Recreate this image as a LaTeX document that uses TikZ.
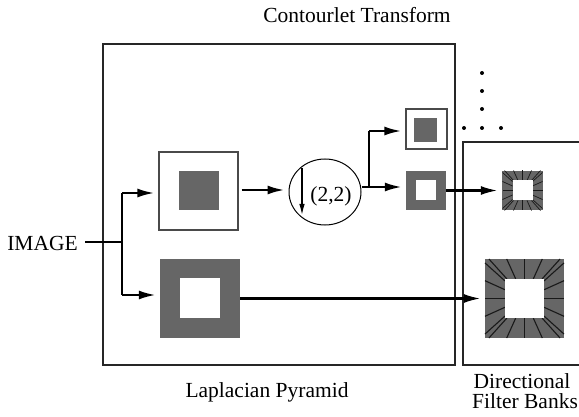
\documentclass[tikz,border=0pt]{standalone}
\usepackage{fontspec}
\setmainfont{Liberation Serif}
\usetikzlibrary{arrows.meta,shapes.geometric}
\definecolor{sqgray}{HTML}{666666}
\definecolor{edgegray}{HTML}{4A4A4A}
\tikzset{
  lbl/.style={font=\fontsize{21.5}{24}\selectfont, inner sep=0pt, anchor=base},
  frame/.style={draw=black!85, line width=1.3pt},
  arr/.style={line width=2.4pt, -{Latex[length=17pt,width=9pt]}, shorten >=4pt},
  wire/.style={line width=2.4pt},
  graysq/.style={fill=sqgray, draw=none, inner sep=0pt},
  hole/.style={fill=white, draw=none, inner sep=0pt},
  outsq/.style={draw=edgegray, line width=1.2pt, fill=white, inner sep=0pt},
  ray/.style={line width=1.1pt, black!90},
  dot/.style={circle, fill=black, inner sep=0pt, minimum size=4pt}
}
\newcommand\myrays[5]{%
  \foreach \t in {-0.9,-0.45,0,0.45,0.9}{
    \draw[ray, line width=#5] ({#1+\t*#4},{#2-#4}) -- ({#1+\t*#3},{#2-#3});
    \draw[ray, line width=#5] ({#1+\t*#4},{#2+#4}) -- ({#1+\t*#3},{#2+#3});
    \draw[ray, line width=#5] ({#1-#4},{#2+\t*#4}) -- ({#1-#3},{#2+\t*#3});
    \draw[ray, line width=#5] ({#1+#4},{#2+\t*#4}) -- ({#1+#3},{#2+\t*#3});
  }}
\begin{document}
\begin{tikzpicture}[x=1pt,y=-1pt]
\useasboundingbox (0,0) rectangle (579,417);
% frames
\draw[frame] (103,44) rectangle (455,365);
\draw[frame] (579,142) -- (463,142) -- (463,365) -- (579,365);
% titles
\node[lbl] (title) at (357,23) {Contourlet Transform};
\node[lbl] (lp) at (267,397) {Laplacian Pyramid};
\node[lbl] (dfb1) at (522,388) {Directional};
\node[lbl] (dfb2) at (525,408) {Filter Banks};
\node[lbl, anchor=base east] (img) at (78,251) {IMAGE};
% squares
\node[outsq, minimum width=79pt, minimum height=78pt] (sqA) at (198.5,191) {};
\node[graysq, minimum width=40pt, minimum height=39pt] (sqAi) at (199,190.5) {};
\node[graysq, minimum width=80pt, minimum height=79pt] (sqB) at (200,298.5) {};
\node[hole, minimum width=40pt, minimum height=40pt] (sqBi) at (200,298) {};
\node[outsq, minimum width=41pt, minimum height=40pt] (sqC) at (426.5,129) {};
\node[graysq, minimum width=23pt, minimum height=24pt] (sqCi) at (425.5,130) {};
\node[graysq, minimum width=40pt, minimum height=39pt] (sqD) at (426,190.5) {};
\node[hole, minimum width=20pt, minimum height=20pt] (sqDi) at (426,190) {};
\node[graysq, minimum width=41pt, minimum height=39pt] (sqE) at (522.5,190.5) {};
\myrays{522.5}{190.5}{20}{10}{0.7pt}
\node[hole, minimum width=20pt, minimum height=20pt] (sqEi) at (522.5,190.5) {};
\node[graysq, minimum width=79pt, minimum height=79pt] (sqF) at (524.5,298.5) {};
\myrays{524.5}{298.5}{39.5}{19.5}{1.1pt}
\node[hole, minimum width=39pt, minimum height=39pt] (sqFi) at (524.5,298.5) {};
% downsampler
\node[ellipse, draw, line width=1pt, minimum width=72pt, minimum height=66pt, inner sep=0pt] (ds) at (325,192) {};
\node[lbl] (dsl) at (331,202) {(2,2)};
\coordinate (dtop) at (302,168);
\coordinate (dbot) at (302,215);
\draw[line width=1.3pt, -{Latex[length=11pt,width=5.5pt]}] (dtop) -- (dbot);
% dots
\node[dot] (d1) at (482,73) {};
\node[dot] (d2) at (482,91) {};
\node[dot] (d3) at (482,109) {};
\node[dot] (d4) at (482,128) {};
\node[dot] (d5) at (464,128) {};
\node[dot] (d6) at (501,128) {};
% connectors
\coordinate (j1) at (122,242);
\draw[wire] ([xshift=7pt]img.east |- j1) -- (j1);
\draw[wire] (122,193) -- (122,295);
\draw[arr] (122,193) -- (sqA.west |- 0,193);
\draw[arr] (122,295) -- (sqB.west |- 0,295);
\draw[arr] (sqA.east) ++(3,-1) -- (ds.west |- 0,190);
\coordinate (j2) at (369,187);
\draw[wire] (ds.east |- j2) -- (j2) -- (369,131);
\draw[arr] (369,131) -- (sqC.west |- 0,131);
\draw[arr] (j2) -- (sqD.west |- j2);
\draw[arr] (sqD.east) -- (sqE.west);
\draw[arr] (sqB.east) -- (sqF.west);
\end{tikzpicture}
\end{document}
